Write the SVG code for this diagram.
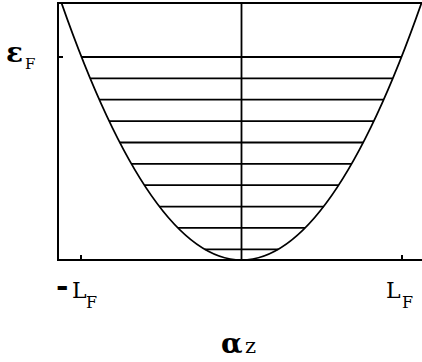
<svg xmlns="http://www.w3.org/2000/svg" width="422" height="362" viewBox="0 0 422 362">
<style>
.ax{stroke:#000;stroke-width:2;fill:none}
.ln{stroke:#000;stroke-width:1.8;fill:none}
.gr{font-family:"DejaVu Serif",serif;font-weight:bold;fill:#000}
.tt{font-family:"DejaVu Serif",serif;fill:#000}
</style>
<rect width="422" height="362" fill="#fff"/>
<g id="axes">
<path class="ax" d="M58,2 V261 M57,260 H422 M58,3 H422"/>
<path class="ax" d="M81,260 V255 M402,260 V255 M58,57 H63"/>
<path class="ln" d="M241.5,3 V260"/>
</g>
<g id="parabola">
<path class="ln" d="M61.5,3 Q241.5,517 421.5,3"/>
</g>
<g id="levels" class="ln">
<line x1="204.8" y1="249.3" x2="278.2" y2="249.3"/>
<line x1="177.9" y1="227.9" x2="305.1" y2="227.9"/>
<line x1="159.4" y1="206.6" x2="323.6" y2="206.6"/>
<line x1="144.4" y1="185.2" x2="338.6" y2="185.2"/>
<line x1="131.4" y1="163.8" x2="351.6" y2="163.8"/>
<line x1="119.8" y1="142.5" x2="363.2" y2="142.5"/>
<line x1="109.1" y1="121.1" x2="373.9" y2="121.1"/>
<line x1="99.3" y1="99.7" x2="383.7" y2="99.7"/>
<line x1="90.2" y1="78.4" x2="392.8" y2="78.4"/>
<line x1="81.5" y1="57" x2="401.5" y2="57"/>
</g>
<g id="labels">
<text class="gr" x="6" y="62" font-size="28">ε</text>
<text class="tt" x="25" y="69" font-size="15">F</text>
<text class="tt" y="298" font-size="22"><tspan x="56" y="296" font-weight="bold" font-size="30">-</tspan><tspan x="72" y="298">L</tspan></text>
<text class="tt" x="86" y="308" font-size="16">F</text>
<text class="tt" x="386" y="298" font-size="22">L</text>
<text class="tt" x="402" y="308" font-size="16">F</text>
<text class="gr" x="221" y="353" font-size="28">α</text>
<text class="tt" x="245" y="353" font-size="21">z</text>
</g>
</svg>
